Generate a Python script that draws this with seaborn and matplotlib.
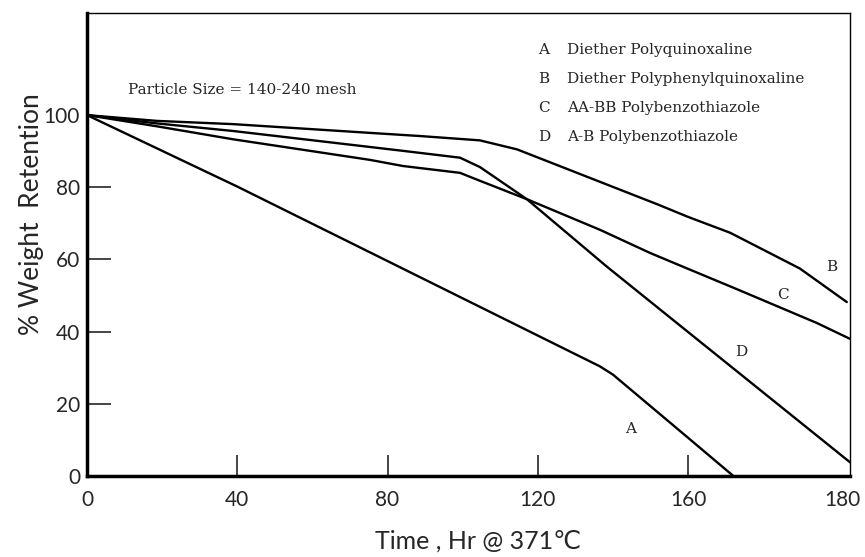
import numpy as np
import pandas as pd
import matplotlib
matplotlib.use('Agg')
import matplotlib.pyplot as plt
import matplotlib.transforms as mtransforms
import seaborn as sns

# values (hours, % weight retained)
time_a = [0, 40, 136.5, 140, 160, 165.6]
ret_a = [100, 80.2, 30.4, 28.1, 10.6, 0]

time_b = [0, 18.6, 38.9, 78, 88.7, 104.6, 114.5, 151.8, 160, 165.2, 173.8, 179.6]
ret_b = [100, 98.4, 97.5, 94.9, 94.2, 93.0, 90.5, 75.3, 71.8, 67.4, 57.5, 48.2]

time_c = [0, 18.6, 38.9, 75.3, 84.1, 99.3, 104.6, 117.1, 136.6, 149.9, 160, 166.0, 175.9, 180]
ret_c = [100, 96.9, 93.3, 87.6, 85.9, 84.0, 81.8, 76.7, 68.2, 61.8, 57.4, 51.8, 42.4, 38.0]

time_d = [0, 18.6, 38.9, 84.1, 99.3, 104.6, 117.1, 138.4, 160, 180]
ret_d = [100, 97.7, 95.6, 90.1, 88.2, 85.6, 76.7, 58.0, 39.9, 3.8]

series = ['A', 'B', 'C', 'D']
names = ['Diether Polyquinoxaline', 'Diether Polyphenylquinoxaline',
         'AA-BB Polybenzothiazole', 'A-B Polybenzothiazole']

x_ticks = [0, 40, 80, 120, 160, 180]
y_ticks = [0, 20, 40, 60, 80, 100]

df = pd.concat([
    pd.DataFrame({'time': time_a, 'ret': ret_a, 'polymer': 'A'}),
    pd.DataFrame({'time': time_b, 'ret': ret_b, 'polymer': 'B'}),
    pd.DataFrame({'time': time_c, 'ret': ret_c, 'polymer': 'C'}),
    pd.DataFrame({'time': time_d, 'ret': ret_d, 'polymer': 'D'}),
], ignore_index=True)

sns.set_style('white')
plt.rcParams['font.family'] = ['Lato', 'DejaVu Sans']

# the last 20 hr of the original axis is drawn wider than the rest
K = 2.156
def fwd(x):
    x = np.asarray(x, dtype=float)
    return np.where(x <= 160, x, 160 + (x - 160) * K)

def inv(x):
    x = np.asarray(x, dtype=float)
    return np.where(x <= 160, x, 160 + (x - 160) / K)

fig = plt.figure(figsize=(8.65, 5.57), dpi=100)
ax = fig.add_axes([0.1006, 0.1454, 0.8821, 0.8313])

sns.lineplot(data=df, x='time', y='ret', hue='polymer', units='polymer',
             estimator=None, palette={s: 'black' for s in series},
             linewidth=1.7, legend=False, ax=ax)

ax.set_xscale('function', functions=(fwd, inv))
ax.set_xlim(0, 180)
ax.set_ylim(0, 128.3)

ax.set_xticks(x_ticks)
ax.set_xticklabels([str(t) for t in x_ticks])
ax.set_yticks(y_ticks)
ax.set_yticklabels([str(t) for t in y_ticks])
ax.xaxis.set_minor_locator(matplotlib.ticker.NullLocator())
ax.tick_params(axis='x', direction='in', length=15, width=1.2, pad=10,
               labelsize=15, bottom=True)
ax.tick_params(axis='y', direction='in', length=17, width=1.2, pad=5,
               labelsize=15, left=True)
for t in (ax.xaxis.get_major_ticks()[0], ax.xaxis.get_major_ticks()[-1],
          ax.yaxis.get_major_ticks()[0], ax.yaxis.get_major_ticks()[-1]):
    t.tick1line.set_visible(False)

# keep the last x label inside the picture
last = ax.get_xticklabels()[-1]
last.set_horizontalalignment('right')
last.set_transform(last.get_transform() +
                   mtransforms.ScaledTranslation(0.1, 0, fig.dpi_scale_trans))

for side in ['left', 'bottom']:
    ax.spines[side].set_linewidth(2.5)
for side in ['top', 'right']:
    ax.spines[side].set_linewidth(1.0)
for s in ax.spines.values():
    s.set_color('black')

ax.set_xlabel('Time , Hr @ 371℃', fontsize=18, labelpad=8)
ax.set_ylabel('% Weight  Retention', fontsize=19)
ax.yaxis.set_label_coords(-0.057, 0.565)
ax.xaxis.set_label_coords(0.513, -0.115)

serif = ['DejaVu Serif']
ax.text(0.054, 0.834, 'Particle Size = 140-240 mesh', transform=ax.transAxes,
        family=serif, fontsize=11, va='center')

for i, (s, n) in enumerate(zip(series, names)):
    y = 0.920 - i * 0.0627
    ax.text(0.591, y, s, transform=ax.transAxes, family=serif, fontsize=11,
            va='center')
    ax.text(0.629, y, n, transform=ax.transAxes, family=serif, fontsize=11,
            va='center')

# letters beside the curves
ax.text(0.976, 0.451, 'B', transform=ax.transAxes, family=serif, fontsize=11,
        ha='center', va='center')
ax.text(0.912, 0.391, 'C', transform=ax.transAxes, family=serif, fontsize=11,
        ha='center', va='center')
ax.text(0.858, 0.268, 'D', transform=ax.transAxes, family=serif, fontsize=11,
        ha='center', va='center')
ax.text(0.712, 0.101, 'A', transform=ax.transAxes, family=serif, fontsize=11,
        ha='center', va='center')

fig.savefig('out.png', dpi=100)
